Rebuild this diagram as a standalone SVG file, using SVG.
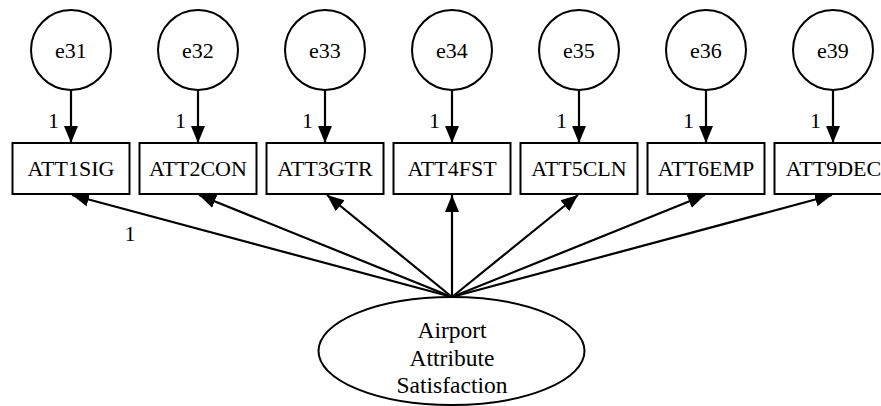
<svg xmlns="http://www.w3.org/2000/svg" width="881" height="406" viewBox="0 0 881 406">
<style>
text{font-family:"Liberation Serif","Times New Roman",serif;font-size:22px;fill:#000;text-anchor:middle}
text.big{font-size:23.5px}
.n{fill:#fff;stroke:#000;stroke-width:2}
.e{stroke:#000;stroke-width:2.2;fill:none}
</style>
<defs>
<marker id="ah" markerUnits="userSpaceOnUse" markerWidth="18" markerHeight="16" viewBox="0 0 18 16" refX="17" refY="8" orient="auto">
<path d="M0,1 L17,8 L0,15 Z" fill="#000"/>
</marker>
</defs>
<rect width="881" height="406" fill="#fff"/>
<g id="connectors">
<line class="e" x1="71" y1="90" x2="71" y2="143" marker-end="url(#ah)"/>
<line class="e" x1="198" y1="90" x2="198" y2="143" marker-end="url(#ah)"/>
<line class="e" x1="325" y1="90" x2="325" y2="143" marker-end="url(#ah)"/>
<line class="e" x1="452" y1="90" x2="452" y2="143" marker-end="url(#ah)"/>
<line class="e" x1="579" y1="90" x2="579" y2="143" marker-end="url(#ah)"/>
<line class="e" x1="706" y1="90" x2="706" y2="143" marker-end="url(#ah)"/>
<line class="e" x1="833" y1="90" x2="833" y2="143" marker-end="url(#ah)"/>
<line class="e" x1="452" y1="297" x2="72" y2="195" marker-end="url(#ah)"/>
<line class="e" x1="452" y1="297" x2="199" y2="195" marker-end="url(#ah)"/>
<line class="e" x1="452" y1="297" x2="327" y2="195" marker-end="url(#ah)"/>
<line class="e" x1="452" y1="297" x2="452" y2="195" marker-end="url(#ah)"/>
<line class="e" x1="452" y1="297" x2="578" y2="195" marker-end="url(#ah)"/>
<line class="e" x1="452" y1="297" x2="705" y2="195" marker-end="url(#ah)"/>
<line class="e" x1="452" y1="297" x2="832" y2="195" marker-end="url(#ah)"/>
<text x="53.5" y="128">1</text>
<text x="180.5" y="128">1</text>
<text x="307.5" y="128">1</text>
<text x="434.5" y="128">1</text>
<text x="561.5" y="128">1</text>
<text x="688.5" y="128">1</text>
<text x="815.5" y="128">1</text>
<text x="130" y="241">1</text>
</g>
<g id="e31"><circle class="n" cx="71" cy="50" r="40"/><text x="71" y="58">e31</text></g>
<g id="e32"><circle class="n" cx="198" cy="50" r="40"/><text x="198" y="58">e32</text></g>
<g id="e33"><circle class="n" cx="325" cy="50" r="40"/><text x="325" y="58">e33</text></g>
<g id="e34"><circle class="n" cx="452" cy="50" r="40"/><text x="452" y="58">e34</text></g>
<g id="e35"><circle class="n" cx="579" cy="50" r="40"/><text x="579" y="58">e35</text></g>
<g id="e36"><circle class="n" cx="706" cy="50" r="40"/><text x="706" y="58">e36</text></g>
<g id="e39"><circle class="n" cx="833" cy="50" r="40"/><text x="833" y="58">e39</text></g>
<g id="ATT1SIG"><rect class="n" x="12.5" y="143" width="117" height="51"/><text x="71" y="176">ATT1SIG</text></g>
<g id="ATT2CON"><rect class="n" x="139.5" y="143" width="117" height="51"/><text x="198" y="176">ATT2CON</text></g>
<g id="ATT3GTR"><rect class="n" x="266.5" y="143" width="117" height="51"/><text x="325" y="176">ATT3GTR</text></g>
<g id="ATT4FST"><rect class="n" x="393.5" y="143" width="117" height="51"/><text x="452" y="176">ATT4FST</text></g>
<g id="ATT5CLN"><rect class="n" x="520.5" y="143" width="117" height="51"/><text x="579" y="176">ATT5CLN</text></g>
<g id="ATT6EMP"><rect class="n" x="647.5" y="143" width="117" height="51"/><text x="706" y="176">ATT6EMP</text></g>
<g id="ATT9DEC"><rect class="n" x="774.5" y="143" width="117" height="51"/><text x="833.5" y="176">ATT9DEC</text></g>
<g id="AirportAttributeSatisfaction">
<ellipse class="n" cx="451.5" cy="351" rx="133" ry="54"/>
<text class="big" x="452" y="338">Airport</text>
<text class="big" x="452" y="366">Attribute</text>
<text class="big" x="452" y="393">Satisfaction</text>
</g>
</svg>
